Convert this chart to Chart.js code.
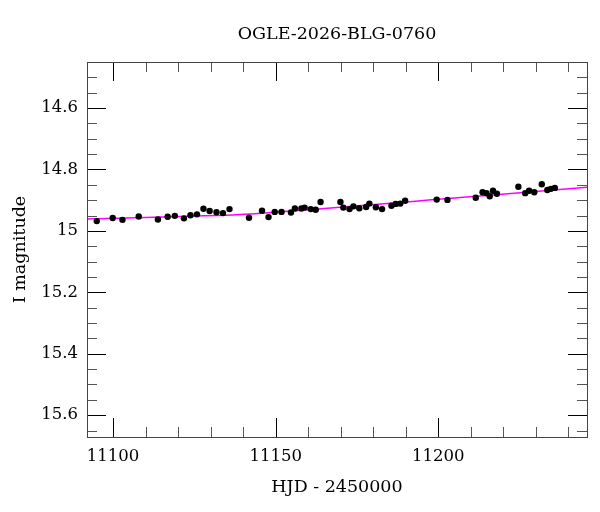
<!DOCTYPE html>
<html><head><meta charset="utf-8">
<script src="https://cdn.jsdelivr.net/npm/chart.js@4.4.1/dist/chart.umd.min.js"></script>
<style>html,body{margin:0;padding:0;background:#fff}</style>
</head><body>
<canvas id="c" width="600" height="512" style="width:600px;height:512px;display:block"></canvas>
<script>
const chartTitle = 'OGLE-2026-BLG-0760';
const xTitle = 'HJD - 2450000';
const yTitle = 'I magnitude';

const hjd = [11095.0, 11099.9, 11102.9, 11107.9, 11113.8, 11116.8, 11119.0, 11121.8, 11123.8, 11125.8,
  11127.8, 11129.7, 11131.8, 11133.8, 11135.8, 11141.8, 11145.8, 11147.8, 11149.7, 11151.8,
  11154.7, 11155.9, 11157.9, 11158.9, 11160.8, 11162.3, 11163.8, 11169.9, 11170.8, 11172.7,
  11173.9, 11175.7, 11177.8, 11178.8, 11180.8, 11182.7, 11185.6, 11186.9, 11188.3, 11189.8,
  11199.5, 11202.8, 11211.5, 11213.6, 11214.8, 11215.8, 11216.8, 11218.0, 11224.6, 11226.7,
  11227.9, 11229.5, 11231.8, 11233.5, 11234.6, 11235.8];
const mag = [14.968, 14.958, 14.964, 14.953, 14.963, 14.954, 14.951, 14.959, 14.949, 14.946,
  14.928, 14.935, 14.939, 14.942, 14.929, 14.957, 14.934, 14.955, 14.938, 14.938,
  14.940, 14.927, 14.927, 14.924, 14.929, 14.931, 14.906, 14.906, 14.924, 14.929,
  14.920, 14.926, 14.922, 14.911, 14.923, 14.929, 14.918, 14.912, 14.911, 14.902,
  14.898, 14.899, 14.892, 14.874, 14.877, 14.887, 14.869, 14.879, 14.856, 14.877,
  14.869, 14.874, 14.848, 14.867, 14.863, 14.860];
const magErr = [0.004, 0.004, 0.004, 0.004, 0.004, 0.004, 0.004, 0.004, 0.004, 0.004,
  0.004, 0.004, 0.004, 0.004, 0.004, 0.004, 0.004, 0.004, 0.004, 0.004,
  0.004, 0.004, 0.004, 0.004, 0.004, 0.004, 0.004, 0.004, 0.004, 0.004,
  0.004, 0.004, 0.004, 0.004, 0.004, 0.004, 0.004, 0.004, 0.004, 0.004,
  0.004, 0.004, 0.004, 0.004, 0.004, 0.004, 0.004, 0.004, 0.004, 0.004,
  0.004, 0.004, 0.004, 0.004, 0.004, 0.004];

const modelHjd = [11092.0, 11128.0, 11143.5, 11164.0, 11193.0, 11201.0, 11245.7];
const modelMag = [14.961, 14.951, 14.944, 14.928, 14.903, 14.896, 14.858];

const xTickValues = [11100, 11150, 11200];
const xTickLabels = ['11100', '11150', '11200'];
const yTickValues = [14.6, 14.8, 15, 15.2, 15.4, 15.6];
const yTickLabels = ['14.6', '14.8', '15', '15.2', '15.4', '15.6'];
const xMinorTicks = [11100, 11110, 11120, 11130, 11140, 11150, 11160, 11170, 11180, 11190,
  11200, 11210, 11220, 11230, 11240];
const yMinorTicks = [14.5, 14.55, 14.6, 14.65, 14.7, 14.75, 14.8, 14.85, 14.9, 14.95, 15,
  15.05, 15.1, 15.15, 15.2, 15.25, 15.3, 15.35, 15.4, 15.45, 15.5, 15.55, 15.6, 15.65];

const FONT = 'DejaVu Serif';

const framePlugin = {
  id: 'frame',
  afterDatasetsDraw(chart) {
    const {ctx, chartArea: a, scales: {x, y}} = chart;
    ctx.save();
    ctx.lineWidth = 1;
    // ticks
    xMinorTicks.forEach(v => {
      const px = Math.round(x.getPixelForValue(v)) + 0.5;
      const major = xTickValues.includes(v);
      const len = major ? 19 : 10;
      ctx.strokeStyle = major ? '#000' : '#555';
      ctx.beginPath();
      ctx.moveTo(px, a.bottom); ctx.lineTo(px, a.bottom - len);
      ctx.moveTo(px, a.top); ctx.lineTo(px, a.top + len);
      ctx.stroke();
    });
    yMinorTicks.forEach(v => {
      const py = Math.round(y.getPixelForValue(v)) + 0.5;
      const major = yTickValues.some(t => Math.abs(t - v) < 1e-9);
      const len = major ? 19 : 10;
      ctx.strokeStyle = major ? '#000' : '#555';
      ctx.beginPath();
      ctx.moveTo(a.left, py); ctx.lineTo(a.left + len, py);
      ctx.moveTo(a.right, py); ctx.lineTo(a.right - len, py);
      ctx.stroke();
    });
    ctx.strokeStyle = '#444';
    ctx.strokeRect(Math.round(a.left) + 0.5, Math.round(a.top) + 0.5,
      Math.round(a.right - a.left), Math.round(a.bottom - a.top));
    // title
    ctx.fillStyle = '#000';
    ctx.font = '17.5px "' + FONT + '"';
    ctx.textAlign = 'center';
    ctx.textBaseline = 'middle';
    ctx.fillText(chartTitle, (a.left + a.right) / 2, 34);
    ctx.restore();
  }
};

const errorBarPlugin = {
  id: 'errbars',
  beforeDatasetsDraw(chart) {
    const {ctx, scales: {x, y}} = chart;
    ctx.save();
    ctx.strokeStyle = '#000';
    ctx.lineWidth = 1.5;
    hjd.forEach((t, i) => {
      const px = x.getPixelForValue(t);
      ctx.beginPath();
      ctx.moveTo(px, y.getPixelForValue(mag[i] - magErr[i]));
      ctx.lineTo(px, y.getPixelForValue(mag[i] + magErr[i]));
      ctx.stroke();
    });
    ctx.restore();
  }
};

new Chart(document.getElementById('c'), {
  type: 'scatter',
  data: {
    datasets: [
      {
        label: 'data',
        data: hjd.map((t, i) => ({x: t, y: mag[i]})),
        pointRadius: 3.2,
        pointStyle: 'circle',
        backgroundColor: '#000',
        borderColor: '#000',
        borderWidth: 0,
        order: 1
      },
      {
        label: 'model',
        data: modelHjd.map((t, i) => ({x: t, y: modelMag[i]})),
        showLine: true,
        pointRadius: 0,
        borderColor: '#ff00ff',
        borderWidth: 1.5,
        tension: 0.4,
        order: 2
      }
    ]
  },
  options: {
    responsive: false,
    devicePixelRatio: 1,
    animation: false,
    layout: {padding: {top: 62, right: 13, left: 0, bottom: 0}},
    plugins: {legend: {display: false}, title: {display: false}, tooltip: {enabled: false}},
    scales: {
      x: {
        type: 'linear', min: 11092, max: 11245.7,
        grid: {display: false, drawTicks: false}, border: {display: false},
        afterBuildTicks: s => { s.ticks = xTickValues.map(v => ({value: v})); },
        afterFit: s => { s.height = 75; },
        ticks: {
          color: '#000', padding: 10, font: {family: FONT, size: 16.5},
          callback: (v) => { const i = xTickValues.indexOf(v); return i >= 0 ? xTickLabels[i] : ''; }
        },
        title: {display: true, text: xTitle, color: '#000', font: {family: FONT, size: 17.5}, padding: {top: 14, bottom: 14}}
      },
      y: {
        type: 'linear', reverse: true, min: 14.45, max: 15.671,
        grid: {display: false, drawTicks: false}, border: {display: false},
        afterBuildTicks: s => { s.ticks = yTickValues.map(v => ({value: v})); },
        afterFit: s => { s.width = 87; },
        ticks: {
          color: '#000', padding: 9, font: {family: FONT, size: 16.5},
          callback: (v) => { const i = yTickValues.findIndex(t => Math.abs(t - v) < 1e-9); return i >= 0 ? yTickLabels[i] : ''; }
        },
        title: {display: true, text: yTitle, color: '#000', font: {family: FONT, size: 17.5}, padding: {top: 10, bottom: 10}}
      }
    }
  },
  plugins: [framePlugin, errorBarPlugin]
});
</script>
</body></html>
